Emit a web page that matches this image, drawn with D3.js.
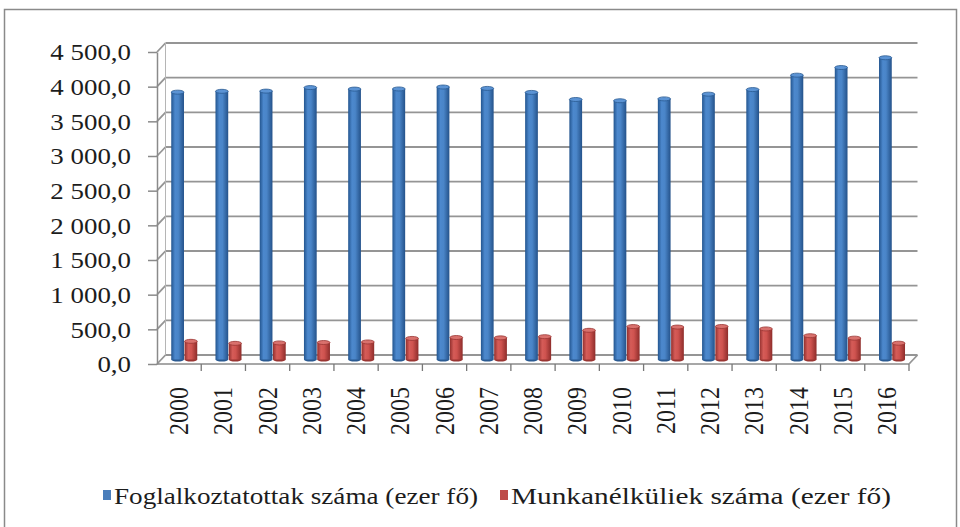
<!DOCTYPE html>
<html lang="hu">
<head>
<meta charset="utf-8">
<title>Foglalkoztatottak és munkanélküliek száma</title>
<script src="https://cdn.jsdelivr.net/npm/d3@7/dist/d3.min.js"></script>
<style>
    body { margin: 0; background: #fff; }
    svg text { font-family: "Liberation Serif", "Times New Roman", "DejaVu Serif", serif; fill: #1c1c1c; }
</style>
</head>
<body>
<div id="chart"></div>
<script>
    // data (ezer fő)
    var years = ["2000", "2001", "2002", "2003", "2004", "2005", "2006", "2007", "2008",
        "2009", "2010", "2011", "2012", "2013", "2014", "2015", "2016"];
    var employed = [3856, 3868, 3871, 3922, 3900, 3902, 3930, 3910, 3852,
        3750, 3732, 3759, 3827, 3893, 4101, 4211, 4352];
    var unemployed = [262, 233, 239, 245, 253, 304, 317, 312, 329,
        421, 475, 468, 476, 441, 343, 308, 235];
    var seriesNames = ["Foglalkoztatottak száma (ezer fő)", "Munkanélküliek száma (ezer fő)"];
    var yTicks = [0, 500, 1000, 1500, 2000, 2500, 3000, 3500, 4000, 4500];

    var WIDTH = 960, HEIGHT = 527;
    var STRETCH = 1.17;          // text in the source is a bit wide
    var DX = 8.5, DY = -9;       // depth of the 3d box

    var huLocale = d3.formatLocale({ decimal: ",", thousands: " ", grouping: [3], currency: ["", ""] });
    var fmt = huLocale.format(",.1f");

    var svg = d3.select("#chart").append("svg")
        .attr("width", WIDTH)
        .attr("height", HEIGHT);

    // outer frame
    svg.append("rect")
        .attr("x", 4.5).attr("y", 9.5)
        .attr("width", 952).attr("height", 600)
        .attr("fill", "none")
        .attr("stroke", "#8a8a8a")
        .attr("stroke-width", 1.5);

    var x = d3.scaleBand().domain(years).range([157, 909]);
    var yFront = d3.scaleLinear().domain([0, 4500]).range([364, 52]);
    var yBack = d3.scaleLinear().domain([0, 4500]).range([364 + DY, 52 + DY]);
    var yBar = d3.scaleLinear().domain([0, 4500]).range([364 + DY / 2, 52 + DY / 2]);
    var inner = d3.scaleBand().domain([0, 1]).range([10, 36]).paddingInner(0.04);

    var defs = svg.append("defs");
    function cylGrad(id, stops) {
        var g = defs.append("linearGradient").attr("id", id)
            .attr("x1", 0).attr("x2", 1).attr("y1", 0).attr("y2", 0);
        g.selectAll("stop").data(stops).enter().append("stop")
            .attr("offset", d => d[0])
            .attr("stop-color", d => d[1]);
    }
    cylGrad("gBlue", [["0%", "#23558f"], ["30%", "#4c88cd"], ["55%", "#4a85c8"], ["100%", "#24528a"]]);
    cylGrad("gRed", [["0%", "#93302e"], ["30%", "#d55c58"], ["55%", "#cf534f"], ["100%", "#8e2d2b"]]);
    var fills = ["url(#gBlue)", "url(#gRed)"];
    var capFills = ["#5b93d4", "#d9716d"];
    var edge = ["#2a5a92", "#9a3532"];

    var grid = svg.append("g").attr("fill", "none").attr("stroke", "#959595").attr("stroke-width", 1.8);

    // back wall lines
    grid.selectAll(".back").data(yTicks).enter().append("line")
        .attr("x1", 157 + DX).attr("x2", 909 + DX)
        .attr("y1", d => yBack(d)).attr("y2", d => yBack(d));
    // side wall diagonals
    grid.selectAll(".side").data(yTicks).enter().append("line")
        .attr("x1", 157).attr("x2", 157 + DX)
        .attr("y1", d => yFront(d)).attr("y2", d => yBack(d));
    grid.append("line")
        .attr("x1", 157 + DX).attr("x2", 157 + DX)
        .attr("y1", yBack(0)).attr("y2", yBack(4500))
        .attr("stroke", "#b5b5b5").attr("stroke-width", 1);
    // floor right edge
    grid.append("line")
        .attr("x1", 909).attr("x2", 909 + DX)
        .attr("y1", yFront(0)).attr("y2", yBack(0));

    // bars (cylinders)
    var rows = years.map((yr, i) => ({ year: yr, vals: [employed[i], unemployed[i]] }));
    var cat = svg.append("g").selectAll("g").data(rows).enter().append("g")
        .attr("transform", d => "translate(" + (x(d.year) + DX / 2) + ",0)");

    var bar = cat.selectAll("g").data(d => d.vals.map((v, s) => ({ v: v, s: s })))
        .enter().append("g");
    bar.append("ellipse")
        .attr("cx", d => inner(d.s) + inner.bandwidth() / 2)
        .attr("cy", yBar(0))
        .attr("rx", inner.bandwidth() / 2).attr("ry", 2)
        .attr("fill", d => edge[d.s]);
    bar.append("rect")
        .attr("x", d => inner(d.s))
        .attr("y", d => yBar(d.v))
        .attr("width", inner.bandwidth())
        .attr("height", d => yBar(0) - yBar(d.v))
        .attr("fill", d => fills[d.s]);
    bar.append("ellipse")
        .attr("cx", d => inner(d.s) + inner.bandwidth() / 2)
        .attr("cy", d => yBar(d.v))
        .attr("rx", inner.bandwidth() / 2).attr("ry", 2)
        .attr("fill", d => capFills[d.s])
        .attr("stroke", d => edge[d.s]).attr("stroke-width", 0.8);

    // front floor line and boundary ticks
    svg.append("line")
        .attr("x1", 157).attr("x2", 909)
        .attr("y1", yFront(0)).attr("y2", yFront(0))
        .attr("stroke", "#8a8a8a").attr("stroke-width", 1.5);
    svg.append("g").selectAll("line").data(years).enter().append("line")
        .attr("x1", d => x(d) + x.bandwidth()).attr("x2", d => x(d) + x.bandwidth())
        .attr("y1", yFront(0)).attr("y2", yFront(0) + 7)
        .attr("stroke", "#777").attr("stroke-width", 1.3);

    // y axis
    var yAxis = svg.append("g")
        .attr("transform", "translate(157,0)")
        .call(d3.axisLeft(yFront).tickValues(yTicks).tickFormat(fmt).tickSize(9).tickSizeOuter(0));
    yAxis.select(".domain").attr("stroke", "#8a8a8a").attr("stroke-width", 1.5);
    yAxis.selectAll(".tick line").attr("stroke", "#8a8a8a").attr("stroke-width", 1.5);
    yAxis.selectAll(".tick text")
        .attr("x", -26 / STRETCH)
        .attr("dy", "0.34em")
        .attr("transform", "scale(" + STRETCH + ",1)")
        .style("font-size", "23px")
        .attr("fill", "#1c1c1c");

    // x axis labels
    var xAxis = svg.append("g")
        .attr("transform", "translate(0," + yFront(0) + ")")
        .call(d3.axisBottom(x).tickSize(0));
    xAxis.select(".domain").remove();
    xAxis.selectAll(".tick text")
        .attr("x", 0).attr("y", 0).attr("dy", null)
        .attr("text-anchor", "end")
        .attr("dominant-baseline", "central")
        .attr("transform", "translate(0,23) scale(" + STRETCH + ",1) rotate(-90)")
        .style("font-size", "24px")
        .attr("fill", "#1c1c1c");

    // legend
    var legendX = [103, 500];
    var legendLen = [364, 380];
    var leg = svg.append("g").selectAll("g").data(seriesNames).enter().append("g")
        .attr("transform", (d, i) => "translate(" + legendX[i] + ",496)");
    leg.append("rect")
        .attr("x", 0).attr("y", -6)
        .attr("width", 8).attr("height", 10)
        .attr("fill", (d, i) => i === 0 ? "#4a7ebb" : "#be4b48");
    leg.append("text")
        .attr("x", 11)
        .attr("dy", "0.33em")
        .attr("textLength", (d, i) => legendLen[i])
        .attr("lengthAdjust", "spacingAndGlyphs")
        .style("font-size", "24px")
        .text(d => d);
</script>
</body>
</html>
